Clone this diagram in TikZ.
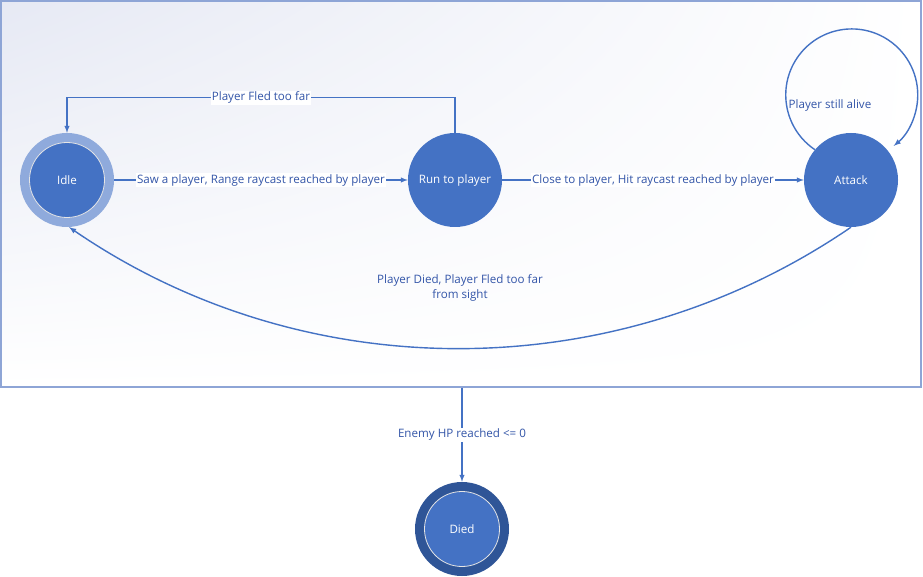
\documentclass[tikz,border=0pt]{standalone}
\usepackage{fontspec}
\setmainfont{Open Sans}
\usetikzlibrary{shadings}
\definecolor{nodeblue}{HTML}{4472C4}
\definecolor{idlering}{HTML}{8FAADC}
\definecolor{diedring}{HTML}{2F5597}
\definecolor{lblblue}{HTML}{3355A8}
\definecolor{framec}{HTML}{8EA5D6}
\definecolor{bgc}{HTML}{E6E9F4}
\begin{document}
\begin{tikzpicture}[x=1pt,y=-1pt]
\tikzset{state/.style={circle,fill=nodeblue,
                       minimum size=94pt,
                       inner sep=0pt,
                       text=white,
                       font=\fontsize{11.6}{13}\selectfont},
         core/.style={circle,fill=nodeblue,
                      draw=white!80!gray,
                      line width=0.8pt,
                      minimum size=75pt,
                      inner sep=0pt,
                      text=white,
                      font=\fontsize{11.6}{13}\selectfont},
         lbl/.style={text=lblblue,fill=white,inner sep=1pt,
                     font=\fontsize{11.6}{15.5}\selectfont},
         edge/.style={draw=nodeblue,line width=1.4pt}
}
\useasboundingbox (0,0) rectangle (923,577);
\node[draw=framec,line width=1.3pt,minimum width=920pt,minimum height=386pt,
      upper left=bgc,upper right=white,lower left=white,lower right=white] (F) at (461,194) {};
\node[state,fill=idlering] (I) at (67,180) {};
\node[core] (Ic) at (I) {Idle};
\node[state] (R) at (455,180) {Run to player};
\node[state] (A) at (851,180) {Attack};
\node[state,fill=diedring] (D) at (462,529) {};
\node[core] (Dc) at (D) {Died};
\draw[edge,-latex] (I) -- node[lbl] {Saw a player, Range raycast reached by player} (R);
\draw[edge,-latex] (R) -- node[lbl] {Close to player, Hit raycast reached by player} (A);
\draw[edge,-latex] (R.north) -- ++(0,-35) -| node[lbl,pos=0.25] {Player Fled too far} (I.north);
\draw[edge,-latex] (A.140) arc[start angle=124,end angle=410.5,radius=66];
\node[lbl,fill=none] (al) at (830,105) {Player still alive};
\draw[edge,-latex] (A.south) arc[start angle=55.6,end angle=124.4,radius=692];
\node[lbl,fill=none,align=center] (bl) at (460,288) {Player Died, Player Fled too far\\from sight};
\draw[edge,-latex] (F.south -| D) -- node[lbl] {Enemy HP reached <= 0} (D);
\end{tikzpicture}
\end{document}
